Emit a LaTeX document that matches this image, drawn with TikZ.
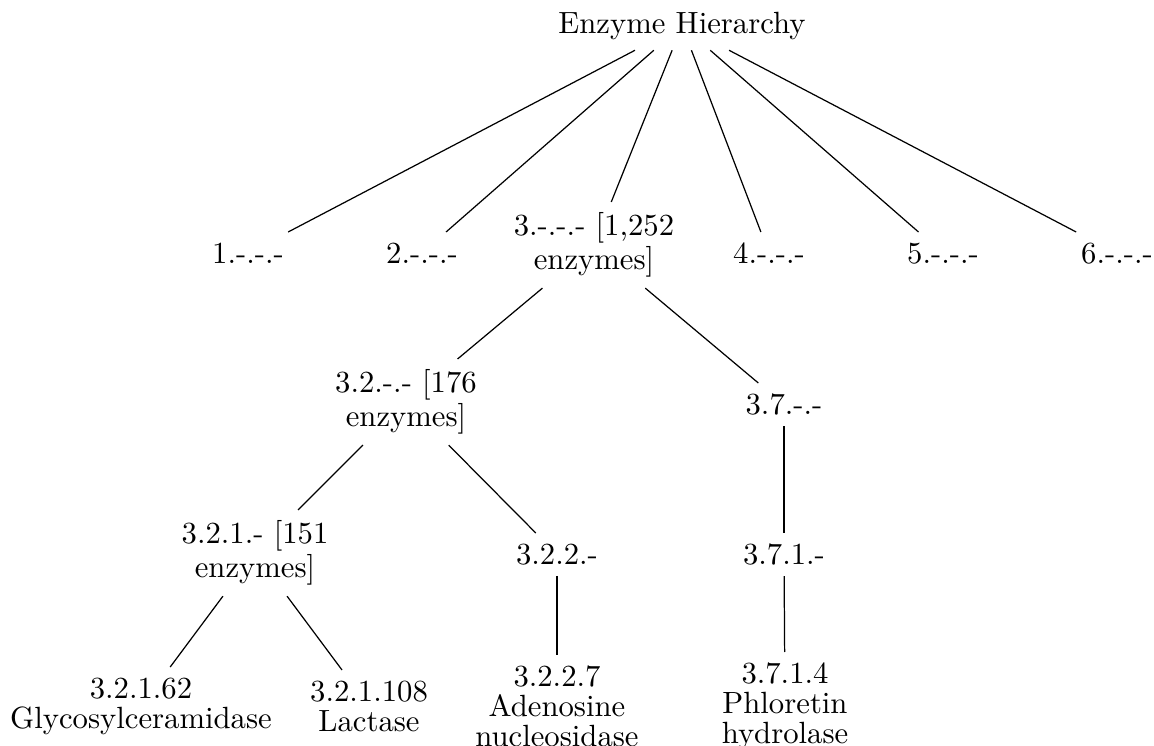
\documentclass[tikz,border=0pt]{standalone}
\begin{document}
\begin{tikzpicture}[x=0.3257pt,y=-0.3257pt,
  lbl/.style={anchor=north,align=center,inner sep=3.33pt,font=\fontsize{10}{9.8}\selectfont},
  edge/.style={draw=black,line width=0.4pt}]
\useasboundingbox (0,0) rectangle (1154,746);
\node[lbl] (root) at (682,1) {Enzyme Hierarchy};
\node[lbl] (n1) at (248,232) {1.-.-.-};
\node[lbl] (n2) at (422,232) {2.-.-.-};
\node[lbl] (n3) at (594,202) {3.-.-.- [1,252\\enzymes]};
\node[lbl] (n4) at (769,232) {4.-.-.-};
\node[lbl] (n5) at (943,232) {5.-.-.-};
\node[lbl] (n6) at (1117,232) {6.-.-.-};
\node[lbl] (n32) at (406,359) {3.2.-.- [176\\enzymes]};
\node[lbl] (n37) at (784,383) {3.7.-.-};
\node[lbl] (n321) at (255,510) {3.2.1.- [151\\enzymes]};
\node[lbl] (n322) at (557,533) {3.2.2.-};
\node[lbl] (n371) at (784,533) {3.7.1.-};
\node[lbl] (l1) at (141,667) {3.2.1.62\\Glycosylceramidase};
\node[lbl] (l2) at (369,670) {3.2.1.108\\Lactase};
\node[lbl] (l3) at (557,655) {3.2.2.7\\Adenosine\\nucleosidase};
\node[lbl] (l4) at (785,652) {3.7.1.4\\Phloretin\\hydrolase};
\foreach \c in {n1,n2,n3,n4,n5,n6} \draw[edge] (root) -- (\c);
\draw[edge] (n3) -- (n32);
\draw[edge] (n3) -- (n37);
\draw[edge] (n32) -- (n321);
\draw[edge] (n32) -- (n322);
\draw[edge] (n37) -- (n371);
\draw[edge] (n321) -- (l1);
\draw[edge] (n321) -- (l2);
\draw[edge] (n322) -- (l3);
\draw[edge] (n371) -- (l4);
\end{tikzpicture}
\end{document}
